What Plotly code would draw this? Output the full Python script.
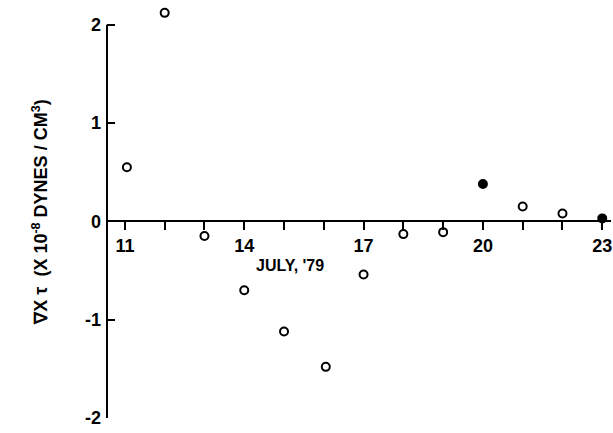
import plotly.graph_objects as go

days = [11.05, 12, 13, 14, 15, 16.05, 17, 18, 19, 20, 21, 22, 23]
curl_tau = [0.55, 2.12, -0.15, -0.70, -1.12, -1.48, -0.54, -0.13, -0.11, 0.38, 0.15, 0.08, 0.03]
filled = [False, False, False, False, False, False, False, False, False, True, False, False, True]
x_tick_vals = list(range(11, 24))
x_tick_labels = ["11", "", "", "14", "", "", "17", "", "", "20", "", "", "23"]
y_tick_vals = [-2, -1, 0, 1, 2]
y_tick_labels = ["-2", "-1", "0", "1", "2"]

FONT = "Liberation Sans"
Y_MIN, Y_MAX = -2.0, 2.2

fig = go.Figure()
fig.add_trace(go.Scatter(
    x=days, y=curl_tau, mode="markers", cliponaxis=False,
    marker=dict(
        symbol=["circle" if f else "circle-open" for f in filled],
        size=8, color="black", line=dict(color="black", width=2),
    ),
    showlegend=False,
))

# y axis line only from -2 to 2
fig.add_shape(type="line", xref="paper", yref="y", x0=0, x1=0, y0=-2, y1=2,
              line=dict(color="black", width=2))

fig.add_annotation(x=15.15, y=-0.45, text="JULY, '79", showarrow=False,
                   font=dict(family=FONT, size=16, color="black", weight="bold"))

fig.update_layout(
    width=613, height=433,
    margin=dict(l=107, r=2, t=5, b=15),
    paper_bgcolor="white", plot_bgcolor="white",
    xaxis=dict(
        range=[10.55, 23.22], anchor="free", position=(0 - Y_MIN) / (Y_MAX - Y_MIN),
        showgrid=False, zeroline=False, showline=True, linecolor="black", linewidth=2,
        tickmode="array", tickvals=x_tick_vals, ticktext=x_tick_labels,
        ticks="outside", ticklen=8, tickwidth=2, tickcolor="black",
        tickfont=dict(family=FONT, size=18, color="black", weight="bold"),
    ),
    yaxis=dict(
        range=[Y_MIN, Y_MAX], showgrid=False, zeroline=False, showline=False,
        tickmode="array", tickvals=y_tick_vals, ticktext=y_tick_labels,
        ticks="inside", ticklen=8, tickwidth=2, tickcolor="black", ticklabelstandoff=5,
        tickfont=dict(family=FONT, size=18, color="black", weight="bold"),
        title=dict(text="∇X τ  (X 10<sup>-8</sup> DYNES / CM<sup>3</sup>)", standoff=32,
                   font=dict(family=FONT, size=18, color="black", weight="bold")),
    ),
)

fig.write_html("out.html")
